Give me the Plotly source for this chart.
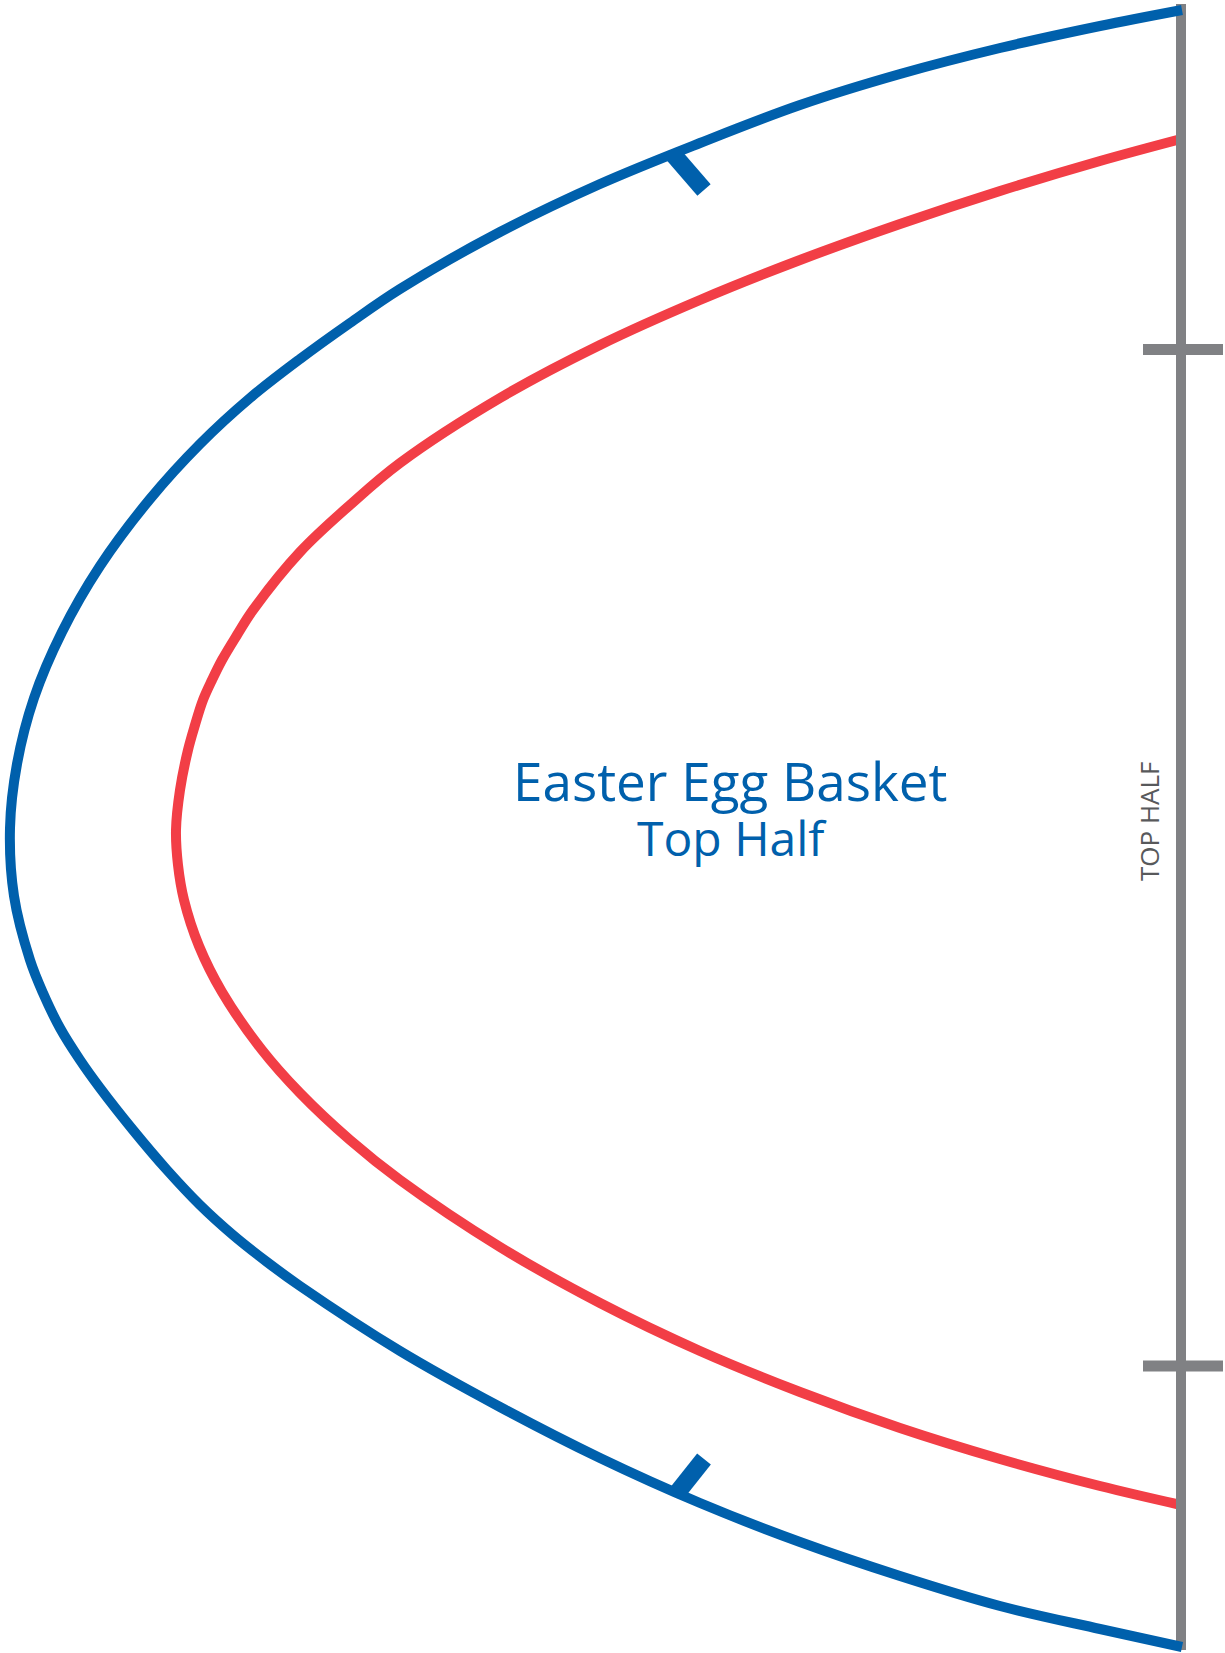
import plotly.graph_objects as go

blue_x = [1182,1100,1000,900,800,700,600,500,400,350,300,250,200,150,100,62,34,17,10,14,30,43,60,80,100,133,167,200,233,267,300,400,500,600,700,800,900,1000,1100,1182]
blue_y = [10,26,48,74,105,143,184,232,289,323,359,398,444,499,566,632,698,764,828,896,960,993,1028,1060,1088,1130,1170,1205,1235,1262,1286,1351,1407,1458,1503,1542,1576,1606,1629,1647]
red_x = [1181,1100,1000,900,800,700,600,500,400,350,300,253,237,222,212,203,195,188,180,176,178,184,199,222,262,300,350,400,500,600,700,800,900,1000,1100,1181]
red_y = [139,161,191,224,260,300,345,398,463,505,552,610,635,660,680,700,725,750,790,830,865,900,946,992,1050,1093,1140,1180,1247,1303,1351,1392,1428,1459,1486,1505]

tick_top_x = [672,704]
tick_top_y = [153,190]
tick_bot_x = [677,704]
tick_bot_y = [1493,1459]
spine_x = [1181,1181]
spine_y = [4,1650]
bar_top_x = [1143,1223]
bar_top_y = [349.5,349.5]
bar_bot_x = [1143,1223]
bar_bot_y = [1366,1366]
title_lines = ["Easter Egg Basket","Top Half"]
side_label = "TOP HALF"
BLUE="#0060AC"; RED="#F23E46"; GRAY="#808184"

fig = go.Figure()
def line(x,y,c,w,shape="spline"):
    fig.add_trace(go.Scatter(x=x,y=y,mode="lines",line=dict(color=c,width=w,shape=shape,smoothing=1),hoverinfo="skip",showlegend=False))
line(red_x,red_y,RED,10)
line(spine_x,spine_y,GRAY,10,"linear")
line(bar_top_x,bar_top_y,GRAY,11,"linear")
line(bar_bot_x,bar_bot_y,GRAY,11,"linear")
line(blue_x,blue_y,BLUE,10)
line(tick_top_x,tick_top_y,BLUE,17.5,"linear")
line(tick_bot_x,tick_bot_y,BLUE,17.5,"linear")
fig.add_annotation(x=730,y=780,text=title_lines[0],showarrow=False,font=dict(family="Open Sans",size=53,color=BLUE))
fig.add_annotation(x=732,y=837,text=title_lines[1],showarrow=False,font=dict(family="Open Sans",size=48,color=BLUE))
fig.add_annotation(x=1149,y=821,text=side_label,textangle=-90,showarrow=False,font=dict(family="Open Sans",size=26,color="#58595B"))
fig.update_xaxes(visible=False,range=[0,1225])
fig.update_yaxes(visible=False,range=[1653,0])
fig.update_layout(width=1225,height=1653,margin=dict(l=0,r=0,t=0,b=0),plot_bgcolor="white",paper_bgcolor="white")
fig.write_html("out.html",default_width="1225px",default_height="1653px",config={"displayModeBar":False},post_script="document.body.style.margin='0';document.documentElement.style.overflow='hidden';")
